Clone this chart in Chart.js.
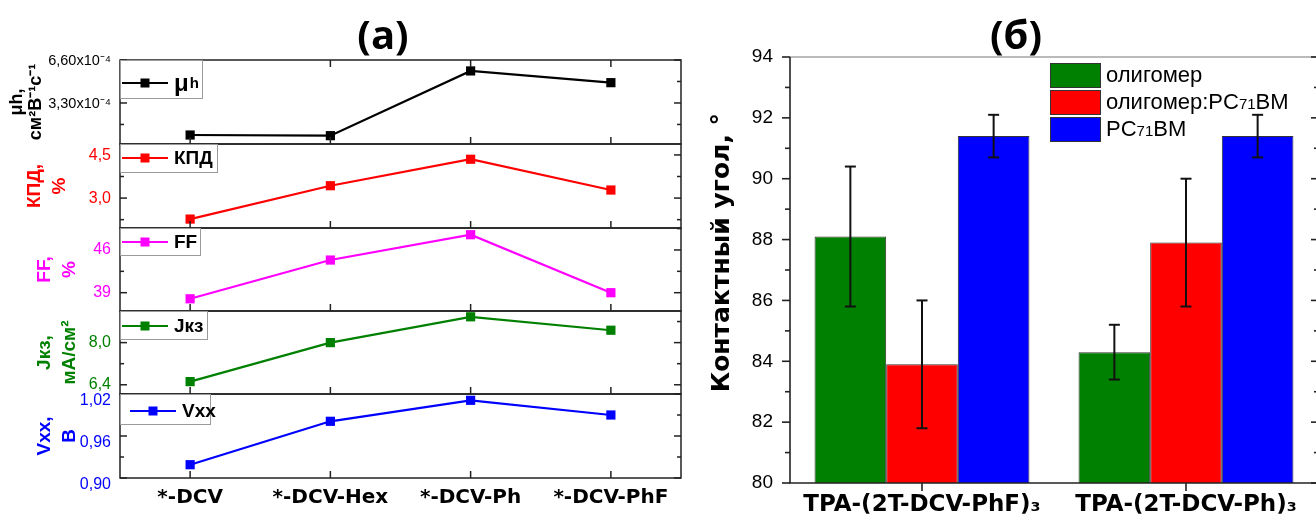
<!DOCTYPE html>
<html><head><meta charset="utf-8">
<script src="https://cdn.jsdelivr.net/npm/chart.js@4.4.1/dist/chart.umd.min.js"></script>
<style>
html,body{margin:0;padding:0;background:#fff;overflow:hidden;}
#wrap{position:relative;width:1316px;height:515px;overflow:hidden;background:#fff;}
canvas{position:absolute;top:0;}
</style></head><body><div id="wrap">
<canvas id="p0" width="700" height="515" style="left:0"></canvas>
<canvas id="p1" width="700" height="515" style="left:0"></canvas>
<canvas id="p2" width="700" height="515" style="left:0"></canvas>
<canvas id="p3" width="700" height="515" style="left:0"></canvas>
<canvas id="p4" width="700" height="515" style="left:0"></canvas>
<canvas id="bar" width="640" height="515" style="left:700px"></canvas>
</div>
<script>
// ---------- data: panel (a) ----------
const categories = ['*-DCV', '*-DCV-Hex', '*-DCV-Ph', '*-DCV-PhF'];
const mobility = [0.84e-4, 0.79e-4, 5.76e-4, 4.86e-4];
const pce = [2.27, 3.43, 4.35, 3.28];
const fillFactor = [38.0, 44.35, 48.5, 39.0];
const jsc = [6.52, 8.0, 8.98, 8.47];
const voc = [0.919, 0.981, 1.011, 0.990];

const mobilityTicks = [1.65e-4, 3.3e-4, 4.95e-4, 6.6e-4];
const mobilityTickLabels = ['', '3,30x10⁻⁴', '', '6,60x10⁻⁴'];
const pceTicks = [2.25, 3.0, 3.75, 4.5];
const pceTickLabels = ['', '3,0', '', '4,5'];
const ffTicks = [39, 42.5, 46, 49.5];
const ffTickLabels = ['39', '', '46', ''];
const jscTicks = [6.4, 7.2, 8.0, 8.8];
const jscTickLabels = ['6,4', '', '8,0', ''];
const vocTicks = [0.90, 0.93, 0.96, 0.99, 1.02];
const vocTickLabels = ['0,90', '', '0,96', '', '1,02'];

// ---------- data: panel (б) ----------
const groups = ['TPA-(2T-DCV-PhF)₃', 'TPA-(2T-DCV-Ph)₃'];
const seriesNames = ['олигомер', 'олигомер:PC71BM', 'PC71BM'];
const oligomer = [88.1, 84.3];
const blend = [83.9, 87.9];
const pcbm = [91.4, 91.4];
const oligomerErr = [2.3, 0.9];
const blendErr = [2.1, 2.1];
const pcbmErr = [0.7, 0.7];
const angleTicks = [80, 81, 82, 83, 84, 85, 86, 87, 88, 89, 90, 91, 92, 93, 94];

const LIB = '"Liberation Sans", Arial, sans-serif';
const DJV = '"DejaVu Sans", sans-serif';

function line(ctx, x1, y1, x2, y2) { ctx.beginPath(); ctx.moveTo(x1, y1); ctx.lineTo(x2, y2); ctx.stroke(); }

const panelPlugin = {
  id: 'panelDecor',
  afterDatasetsDraw(chart, args, o) {
    const {ctx, chartArea: a, scales: {x, y}} = chart;
    ctx.save();
    ctx.strokeStyle = '#222'; ctx.lineWidth = 1.5;
    ctx.strokeRect(a.left, a.top, a.right - a.left, a.bottom - a.top);
    y.ticks.forEach((t, i) => {
      const py = y.getPixelForValue(t.value);
      const len = o.labels[i] ? 7 : 4;
      line(ctx, a.left, py, a.left + len, py);
      line(ctx, a.right, py, a.right - len, py);
    });
    x.ticks.forEach((t, i) => {
      const px = x.getPixelForTick(i);
      line(ctx, px, a.bottom, px, a.bottom - 7);
      if (o.topTicks) line(ctx, px, a.top, px, a.top + 7);
    });
    // legend box
    ctx.fillStyle = '#fff';
    ctx.fillRect(a.left + 1, a.top + 1, o.lw, o.lh);
    ctx.strokeStyle = '#9a9a9a'; ctx.lineWidth = 1;
    ctx.strokeRect(a.left + 0.5, a.top + 0.5, o.lw, o.lh);
    const ly = a.top + o.ly;
    const lx = a.left + o.lx;
    ctx.strokeStyle = o.color; ctx.lineWidth = 2.2;
    line(ctx, lx, ly, lx + 46, ly);
    ctx.fillStyle = o.color;
    ctx.fillRect(lx + 23 - 4.5, ly - 4.5, 9, 9);
    ctx.fillStyle = '#000';
    ctx.textBaseline = 'middle'; ctx.textAlign = 'left';
    const tx = lx + 52;
    if (o.mu) {
      ctx.font = 'bold 24px ' + LIB;
      ctx.fillText('μ', tx, ly + 1);
      const w = ctx.measureText('μ').width;
      ctx.font = 'bold 15px ' + LIB;
      ctx.fillText('h', tx + w + 1, ly + 1);
    } else {
      ctx.font = 'bold 19px ' + LIB;
      ctx.fillText(o.text, tx, ly + 1);
    }
    if (o.heading) {
      ctx.font = 'bold 40px "Open Sans", ' + LIB;
      ctx.textAlign = 'center';
      ctx.fillText(o.heading, 383, 38);
    }
    ctx.restore();
  }
};

const panels = [
  {id: 'p0', data: mobility, color: '#000000', min: 0.15e-4, max: 6.6e-4, ticks: mobilityTicks, labels: mobilityTickLabels,
   top: 60, bottom: 144, title: ['μh,', 'см²В⁻¹с⁻¹'], tsize: 18, tlh: 1.05, tpad: 8, tfs: 14.5,
   lw: 82, lh: 38, ly: 23, lx: 2, mu: true, text: '', topTicks: true, heading: '(a)', labelOffset: 1},
  {id: 'p1', data: pce, color: '#ff0000', min: 1.96, max: 4.88, ticks: pceTicks, labels: pceTickLabels,
   top: 144, bottom: 228, title: ['КПД,', '%'], tsize: 19, tlh: 1.3, tpad: 22.6, tfs: 16,
   lw: 97, lh: 28, ly: 14, lx: 2, text: 'КПД', labelOffset: 1},
  {id: 'p2', data: fillFactor, color: '#ff00ff', min: 36.0, max: 49.6, ticks: ffTicks, labels: ffTickLabels,
   top: 228, bottom: 311, title: ['FF,', '%'], tsize: 19, tlh: 1.3, tpad: 32.6, tfs: 16,
   lw: 80, lh: 27, ly: 14, lx: 2, text: 'FF', labelOffset: 0},
  {id: 'p3', data: jsc, color: '#008000', min: 6.05, max: 9.2, ticks: jscTicks, labels: jscTickLabels,
   top: 311, bottom: 394, title: ['Jкз,', 'мА/см²'], tsize: 19, tlh: 1.3, tpad: 32.6, tfs: 16,
   lw: 87, lh: 28, ly: 15, lx: 2, text: 'Jкз', labelOffset: 0},
  {id: 'p4', data: voc, color: '#0000ff', min: 0.90, max: 1.02, ticks: vocTicks, labels: vocTickLabels,
   top: 394, bottom: 478, title: ['Vxx,', 'В'], tsize: 19, tlh: 1.3, tpad: 32.6, tfs: 16,
   lw: 90, lh: 30, ly: 17, lx: 10, text: 'Vxx', labelOffset: 7, isBottom: true}
];

panels.forEach(p => {
  new Chart(document.getElementById(p.id), {
    type: 'line',
    data: {
      labels: categories,
      datasets: [{
        data: p.data, borderColor: p.color, backgroundColor: p.color,
        borderWidth: 2.2, pointStyle: 'rect', pointRadius: 6.5, pointBorderWidth: 0,
        pointBackgroundColor: p.color, tension: 0, clip: false
      }]
    },
    options: {
      responsive: false, animation: false, events: [],
      layout: {padding: {top: p.top, bottom: p.isBottom ? 0 : 515 - p.bottom, left: 0, right: 19}},
      plugins: {
        legend: {display: false}, tooltip: {enabled: false},
        panelDecor: {labels: p.labels, color: p.color, lw: p.lw, lh: p.lh, ly: p.ly, lx: p.lx,
          mu: p.mu, text: p.text, topTicks: p.topTicks, heading: p.heading}
      },
      scales: {
        x: {
          type: 'category', offset: true, display: !!p.isBottom,
          grid: {display: false, drawTicks: false}, border: {display: false},
          ticks: {font: {family: DJV, size: 20, weight: 'bold'}, color: '#000', padding: 7.5, maxRotation: 0, autoSkip: false},
          afterFit: s => { s.height = p.isBottom ? 37 : 0; }
        },
        y: {
          min: p.min, max: p.max,
          afterBuildTicks: s => { s.ticks = p.ticks.map(v => ({value: v})); },
          afterFit: s => { s.width = 120; },
          grid: {display: false, drawTicks: false}, border: {display: false},
          ticks: {
            callback: (v, i) => p.labels[i], autoSkip: false,
            color: p.color, font: {family: LIB, size: p.tfs}, padding: 9, labelOffset: p.labelOffset
          },
          title: {display: true, text: p.title, color: p.color,
            font: {family: LIB, size: p.tsize, weight: 'bold', lineHeight: p.tlh},
            padding: {top: p.tpad, bottom: 0}}
        }
      }
    },
    plugins: [panelPlugin]
  });
});

// ---------- panel (б) ----------
const barColors = ['#008000', '#ff0000', '#0000ff'];
const errorSets = [oligomerErr, blendErr, pcbmErr];

const barDecor = {
  id: 'barDecor',
  afterDatasetsDraw(chart) {
    const {ctx, chartArea: a, scales: {x, y}} = chart;
    ctx.save();
    // error bars
    ctx.strokeStyle = '#111'; ctx.lineWidth = 2;
    chart.data.datasets.forEach((ds, di) => {
      chart.getDatasetMeta(di).data.forEach((bar, i) => {
        const v = ds.data[i], e = errorSets[di][i];
        const yt = y.getPixelForValue(v + e), yb = y.getPixelForValue(v - e);
        line(ctx, bar.x, yt, bar.x, yb);
        line(ctx, bar.x - 5.5, yt, bar.x + 5.5, yt);
        line(ctx, bar.x - 5.5, yb, bar.x + 5.5, yb);
      });
    });
    // frame
    ctx.strokeStyle = '#777'; ctx.lineWidth = 1.2;
    line(ctx, a.left, a.top, a.right, a.top);
    ctx.strokeStyle = '#222'; ctx.lineWidth = 1.6;
    line(ctx, a.left, a.top, a.left, a.bottom);
    line(ctx, a.left - 1, a.bottom, a.right, a.bottom);
    line(ctx, a.right, a.top, a.right, a.bottom);
    y.ticks.forEach(t => {
      const py = y.getPixelForValue(t.value);
      const major = t.value % 2 === 0;
      line(ctx, a.left - (major ? 8 : 5), py, a.left, py);
      line(ctx, a.right - (major ? 7 : 4), py, a.right, py);
    });
    x.ticks.forEach((t, i) => {
      const px = x.getPixelForTick(i);
      line(ctx, px, a.bottom, px, a.bottom + 8);
    });
    // legend
    chart.data.datasets.forEach((ds, i) => {
      const by = 63 + i * 27;
      ctx.fillStyle = ds.backgroundColor;
      ctx.fillRect(350, by, 50, 24);
      ctx.strokeStyle = '#333'; ctx.lineWidth = 1;
      ctx.strokeRect(350.5, by + 0.5, 50, 24);
      ctx.fillStyle = '#000'; ctx.textBaseline = 'alphabetic'; ctx.textAlign = 'left';
      let tx = 406;
      const base = by + 19;
      ds.label.split(/(71)/).forEach(part => {
        if (!part) return;
        ctx.font = (part === '71' ? '15px ' : '22px ') + LIB;
        ctx.fillText(part, tx, base);
        tx += ctx.measureText(part).width;
      });
    });
    // heading
    ctx.font = 'bold 40px "Open Sans", ' + LIB;
    ctx.textAlign = 'center'; ctx.textBaseline = 'middle';
    ctx.fillText('(б)', 316, 38);
    ctx.restore();
  }
};

new Chart(document.getElementById('bar'), {
  type: 'bar',
  data: {
    labels: groups,
    datasets: [oligomer, blend, pcbm].map((d, i) => ({
      label: seriesNames[i], data: d, backgroundColor: barColors[i],
      borderColor: '#333', borderWidth: 1, base: 80,
      categoryPercentage: 0.814, barPercentage: 1.0
    }))
  },
  options: {
    responsive: false, animation: false, events: [],
    layout: {padding: {top: 57, right: 22, left: 0, bottom: 0}},
    plugins: {legend: {display: false}, tooltip: {enabled: false}},
    scales: {
      x: {
        offset: true, grid: {display: false, drawTicks: false}, border: {display: false},
        ticks: {font: {family: DJV, size: 23, weight: 'bold'}, color: '#000', padding: 8, maxRotation: 0, autoSkip: false},
        afterFit: s => { s.height = 32; }
      },
      y: {
        min: 80, max: 94,
        afterBuildTicks: s => { s.ticks = angleTicks.map(v => ({value: v})); },
        afterFit: s => { s.width = 90; },
        grid: {display: false, drawTicks: false}, border: {display: false},
        ticks: {callback: v => (v % 2 === 0 ? String(v) : ''), autoSkip: false, color: '#000', font: {family: LIB, size: 19}, padding: 17},
        title: {display: true, text: '    Контактный угол, °', color: '#000',
          font: {family: DJV, size: 25, weight: 'bold', lineHeight: 1.2}, padding: {top: 7, bottom: 0}}
      }
    }
  },
  plugins: [barDecor]
});
</script>
</body></html>
